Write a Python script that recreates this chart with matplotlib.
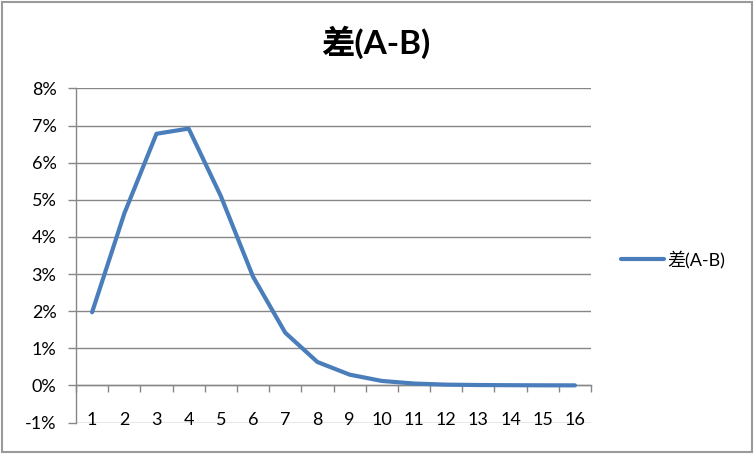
import matplotlib
matplotlib.use("Agg")
import matplotlib.pyplot as plt
from matplotlib.patches import Rectangle

categories = list(range(1, 17))
diff_values = [1.97, 4.63, 6.78, 6.92, 5.1, 2.93, 1.42, 0.63, 0.29, 0.12,
               0.05, 0.02, 0.01, 0.005, 0.002, 0.001]  # percent
y_ticks = list(range(-1, 9))
y_labels = [f"{v}%" for v in y_ticks]
series_name = "差(A-B)"
title = "差(A-B)"

FONT = ['Lato', 'Noto Sans CJK SC', 'DejaVu Sans']
plt.rcParams['font.family'] = FONT

W, H = 754, 454
fig = plt.figure(figsize=(W / 100, H / 100), dpi=100)
fig.patch.set_facecolor('white')

# chart border
fig.add_artist(Rectangle((1.5 / W, 2.5 / H), (W - 3.5) / W, (H - 4) / H,
                         transform=fig.transFigure, fill=False,
                         edgecolor='#9a9a9a', lw=1.5))

left, right, top, bottom = 76, 591, 88.5, 422.5
ax = fig.add_axes([left / W, 1 - bottom / H, (right - left) / W, (bottom - top) / H])

grid_c = '#878787'
line, = ax.plot(categories, diff_values, color='#4A7EBB', lw=3.0,
                solid_capstyle='round', solid_joinstyle='round', label=series_name,
                zorder=3)

ax.set_xlim(0.5, 16.5)
ax.set_ylim(-1, 8)
ax.set_yticks(y_ticks)
ax.set_yticklabels(y_labels)
for v in y_ticks:
    ax.axhline(v, color=grid_c, lw=1, zorder=1)

for s in ['top', 'right']:
    ax.spines[s].set_visible(False)
ax.spines['left'].set_color(grid_c)
ax.spines['left'].set_linewidth(1)
ax.spines['bottom'].set_position(('data', 0))
ax.spines['bottom'].set_color(grid_c)
ax.spines['bottom'].set_linewidth(1)

ax.set_xticks(categories)
ax.set_xticklabels([str(c) for c in categories])
ax.set_xticks([c + 0.5 for c in [0] + categories], minor=True)
ax.tick_params(axis='x', which='major', length=0, pad=19.5, labelsize=13, colors='black')
ax.tick_params(axis='x', which='minor', length=5, width=1, color=grid_c, direction='out')
ax.tick_params(axis='y', length=6, width=1, color=grid_c, direction='out', labelsize=13,
               pad=8, labelcolor='black')

fig.text((320 + 432) / 2 / W, 1 - 42 / H, title, ha='center', va='center',
         fontsize=24, fontweight='bold', family=FONT)

fig.legend(handles=[line], labels=[series_name], loc='center left',
           bbox_to_anchor=(621 / W, 1 - 259 / H), frameon=False, fontsize=13,
           handlelength=2.4, handletextpad=0.15, borderpad=0, borderaxespad=0)

fig.savefig('out.png', dpi=100, facecolor='white')
